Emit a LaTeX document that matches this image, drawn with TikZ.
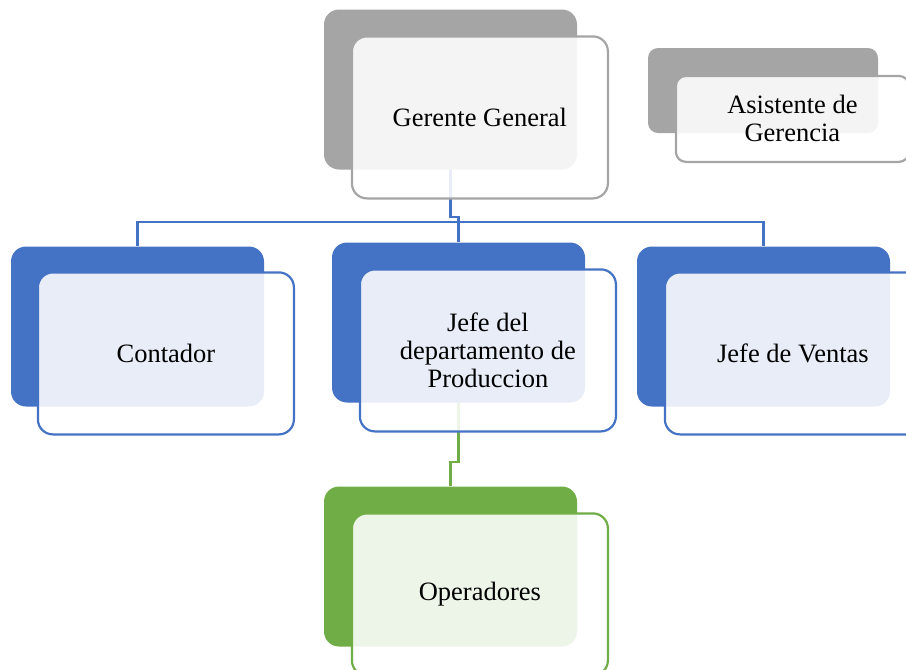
\documentclass[tikz,border=0pt]{standalone}
\usepackage{fontspec}
\setmainfont{Liberation Serif}
\usetikzlibrary{positioning}

\definecolor{azul}{HTML}{4472C4}
\definecolor{gris}{HTML}{A5A5A5}
\definecolor{verde}{HTML}{70AD47}

\tikzset{
  backbox/.style={rectangle, rounded corners=15pt, fill=#1, draw=none,
    minimum width=253pt, minimum height=160pt, inner sep=0pt},
  frontbox/.style={rectangle, rounded corners=15pt, draw=#1, line width=2.2pt,
    fill=white, fill opacity=0.88, text opacity=1,
    minimum width=256pt, minimum height=162pt, inner sep=0pt, align=center,
    font=\fontsize{26.5}{28}\selectfont},
  enlace/.style={draw=#1, line width=2.4pt},
}

\begin{document}
\begin{tikzpicture}[x=1pt,y=-1pt]
        \clip (0,0) rectangle (906,670);
        % Cajas de fondo
            \node[backbox=gris] (ggb) at (450.5,89.5) {};
            \node[backbox=gris, minimum width=230pt, minimum height=85pt, rounded corners=10pt] (asb) at (763,90.5) {};
            \node[backbox=azul] (cob) at (137.5,326.5) {};
            \node[backbox=azul] (jdb) at (458.5,322.5) {};
            \node[backbox=azul] (jvb) at (763.5,326.5) {};
            \node[backbox=verde] (opb) at (450.5,566.5) {};
        % Conectores
            \coordinate (bus) at (0,222);
            \draw[enlace=azul] (ggb.south) -- ++(0,47) -| (jdb.north);
            \draw[enlace=azul] (cob.north) -- (cob.north |- bus) -- (jvb.north |- bus) -- (jvb.north);
            \draw[enlace=verde] (jdb.south) -- ++(0,59) -| (opb.north);
        % Cajas de frente
            \node[frontbox=gris, anchor=north west] (gg) at ([xshift=27pt,yshift=-26pt]ggb.north west) {Gerente General};
            \node[frontbox=gris, anchor=north west, minimum width=233pt, minimum height=86pt, rounded corners=10pt] (as) at ([xshift=27pt,yshift=-27pt]asb.north west) {Asistente de\\Gerencia};
            \node[frontbox=azul, anchor=north west] (co) at ([xshift=26pt,yshift=-25pt]cob.north west) {Contador};
            \node[frontbox=azul, anchor=north west] (jd) at ([xshift=27pt,yshift=-26pt]jdb.north west) {Jefe del\\departamento de\\Produccion};
            \node[frontbox=azul, anchor=north west] (jv) at ([xshift=27pt,yshift=-25pt]jvb.north west) {Jefe de Ventas};
            \node[frontbox=verde, anchor=north west] (op) at ([xshift=27pt,yshift=-26pt]opb.north west) {Operadores};
\end{tikzpicture}
\end{document}
